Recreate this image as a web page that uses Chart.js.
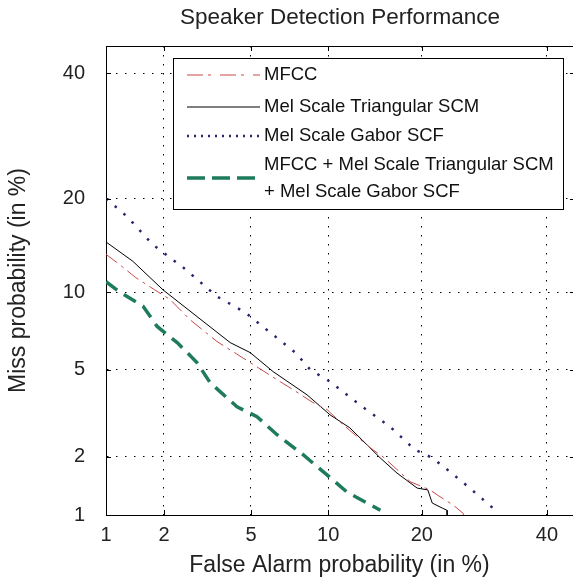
<!DOCTYPE html>
<html>
<head>
<meta charset="utf-8">
<script src="https://cdn.jsdelivr.net/npm/chart.js@4.4.1/dist/chart.umd.min.js"></script>
<style>
  html, body { margin: 0; padding: 0; background: #fff; overflow: hidden; }
  #wrap { width: 573px; height: 581px; }
</style>
</head>
<body>
<div id="wrap"><canvas id="detChart" width="573" height="581"></canvas></div>
<script>
// tick labels (percent) used on both axes
const tickValues = [1, 2, 5, 10, 20, 40];
const axisMin = 1;
const xAxisMax = 44.8; // plot box runs a little past the picture on the right
const yAxisMax = 45;

// MFCC
const mfccFA = [1.0, 1.22, 1.43, 1.8, 2.14, 2.67, 3.56, 4.96, 6.58, 7.4, 8.8, 9.9, 11.3, 13.9, 15.3, 16.9, 18.5, 21.1, 22.1, 24.4, 25.9, 25.9];
const mfccMiss = [13.5, 12.3, 11.3, 10.2, 9.43, 7.93, 6.52, 5.36, 4.45, 4.11, 3.6, 3.35, 2.85, 2.22, 2.0, 1.73, 1.5, 1.36, 1.28, 1.13, 1.02, 1.0];

// Mel Scale Triangular SCM
const triFA = [1.0, 1.39, 1.98, 2.88, 4.07, 4.96, 6.17, 8.36, 10.15, 11.9, 14.97, 16.9, 19.4, 20.8, 21.4, 22.8, 23.5, 23.5];
const triMiss = [14.8, 12.8, 10.2, 8.15, 6.46, 5.89, 4.91, 3.9, 3.17, 2.76, 1.98, 1.66, 1.39, 1.36, 1.16, 1.09, 1.06, 1.0];

// Mel Scale Gabor SCF
const gaborFA = [1.0, 1.3, 1.76, 2.48, 3.56, 4.73, 6.0, 7.54, 8.6, 10.15, 13.1, 16.1, 19.1, 21.4, 23.5, 26.9, 30.6];
const gaborMiss = [20.0, 17.7, 14.5, 12.2, 9.66, 8.44, 7.08, 5.89, 5.0, 4.45, 3.45, 2.79, 2.17, 1.98, 1.73, 1.39, 1.09];

// MFCC + Mel Scale Triangular SCM + Mel Scale Gabor SCF
const fusedFA = [1.0, 1.19, 1.57, 1.85, 2.32, 2.88, 3.31, 4.36, 5.3, 6.4, 8.08, 10.4, 11.6, 15.0];
const fusedMiss = [10.9, 10.0, 8.9, 7.47, 6.46, 5.36, 4.41, 3.45, 3.11, 2.56, 2.05, 1.53, 1.33, 1.06];

const FONT = "'Liberation Sans', Arial, sans-serif";

// inverse normal CDF (Acklam)
function probit(p) {
  const a = [-39.69683028665376, 220.9460984245205, -275.9285104469687, 138.3577518672690, -30.66479806614716, 2.506628277459239];
  const b = [-54.47609879822406, 161.5858368580409, -155.6989798598866, 66.80131188771972, -13.28068155288572];
  const c = [-0.007784894002430293, -0.3223964580411365, -2.400758277161838, -2.549732539343734, 4.374664141464968, 2.938163982698783];
  const d = [0.007784695709041462, 0.3224671290700398, 2.445134137142996, 3.754408661907416];
  const pl = 0.02425;
  if (p < pl) {
    const q = Math.sqrt(-2 * Math.log(p));
    return (((((c[0]*q+c[1])*q+c[2])*q+c[3])*q+c[4])*q+c[5]) / ((((d[0]*q+d[1])*q+d[2])*q+d[3])*q+1);
  }
  if (p > 1 - pl) {
    const q = Math.sqrt(-2 * Math.log(1 - p));
    return -(((((c[0]*q+c[1])*q+c[2])*q+c[3])*q+c[4])*q+c[5]) / ((((d[0]*q+d[1])*q+d[2])*q+d[3])*q+1);
  }
  const q = p - 0.5, r = q * q;
  return (((((a[0]*r+a[1])*r+a[2])*r+a[3])*r+a[4])*r+a[5])*q / (((((b[0]*r+b[1])*r+b[2])*r+b[3])*r+b[4])*r+1);
}

// normal CDF
function normCdf(z) {
  const t = 1 / (1 + 0.2316419 * Math.abs(z));
  const y = 0.3989423 * Math.exp(-z * z / 2) * t * (0.3193815 + t * (-0.3565638 + t * (1.781478 + t * (-1.821256 + t * 1.330274))));
  return z > 0 ? 1 - y : y;
}

// normal deviate scale, values in percent
class ProbitScale extends Chart.Scale {
  determineDataLimits() {
    this.min = this.options.min;
    this.max = this.options.max;
  }
  buildTicks() {
    return tickValues.map((v) => ({ value: v }));
  }
  getLabelForValue(value) {
    return String(value);
  }
  getPixelForValue(value) {
    const z0 = probit(this.min / 100);
    const z1 = probit(this.max / 100);
    return this.getPixelForDecimal((probit(value / 100) - z0) / (z1 - z0));
  }
  getPixelForTick(index) {
    return this.getPixelForValue(this.ticks[index].value);
  }
  getValueForPixel(pixel) {
    const z0 = probit(this.min / 100);
    const z1 = probit(this.max / 100);
    return normCdf(z0 + this.getDecimalForPixel(pixel) * (z1 - z0)) * 100;
  }
}
ProbitScale.id = "probit";
ProbitScale.defaults = {};
Chart.register(ProbitScale);

function points(xs, ys) {
  return xs.map((x, i) => ({ x: x, y: ys[i] }));
}

// title centred over the plot box
const titlePlugin = {
  id: "plotTitle",
  afterDraw(chart) {
    const { ctx } = chart;
    ctx.save();
    ctx.fillStyle = "#222";
    ctx.font = "22.5px " + FONT;
    ctx.textAlign = "center";
    ctx.textBaseline = "middle";
    ctx.fillText("Speaker Detection Performance", 340, 18);
    ctx.restore();
  },
};

// top frame line and inward ticks
const framePlugin = {
  id: "frame",
  afterDatasetsDraw(chart) {
    const { ctx, chartArea, scales } = chart;
    const len = 5;
    const rightEdge = chartArea.right + 2; // frame sits just outside the picture
    ctx.save();
    ctx.strokeStyle = "#000";
    ctx.lineWidth = 1;
    ctx.beginPath();
    ctx.moveTo(chartArea.left, chartArea.top + 0.5);
    ctx.lineTo(rightEdge, chartArea.top + 0.5);
    tickValues.forEach((v) => {
      const px = Math.round(scales.x.getPixelForValue(v)) + 0.5;
      ctx.moveTo(px, chartArea.bottom);
      ctx.lineTo(px, chartArea.bottom - len);
      ctx.moveTo(px, chartArea.top);
      ctx.lineTo(px, chartArea.top + len);
      const py = Math.round(scales.y.getPixelForValue(v)) + 0.5;
      ctx.moveTo(chartArea.left, py);
      ctx.lineTo(chartArea.left + len, py);
      ctx.moveTo(rightEdge, py);
      ctx.lineTo(rightEdge - len, py);
    });
    ctx.stroke();
    ctx.restore();
  },
};

// boxed legend inside the plot, MATLAB style
const legendBoxPlugin = {
  id: "legendBox",
  afterDraw(chart) {
    const { ctx } = chart;
    const box = { x: 173.5, y: 58.5, w: 390, h: 151 };
    const rows = [75, 107, 136, 178];
    ctx.save();
    ctx.fillStyle = "#fff";
    ctx.fillRect(box.x, box.y, box.w, box.h);
    ctx.strokeStyle = "#000";
    ctx.lineWidth = 1;
    ctx.strokeRect(box.x, box.y, box.w, box.h);
    ctx.font = "18.5px " + FONT;
    ctx.textBaseline = "middle";
    chart.data.datasets.forEach((ds, i) => {
      const y = rows[i];
      ctx.beginPath();
      ctx.strokeStyle = ds.borderColor;
      ctx.lineWidth = ds.borderWidth;
      ctx.setLineDash(ds.legendDash || ds.borderDash || []);
      ctx.moveTo(187, y);
      ctx.lineTo(260, y);
      ctx.stroke();
      ctx.setLineDash([]);
      ctx.fillStyle = "#111";
      const lines = Array.isArray(ds.label) ? ds.label : [ds.label];
      if (lines.length === 1) {
        ctx.fillText(lines[0], 264, y);
      } else {
        ctx.fillText(lines[0], 264, 165);
        ctx.fillText(lines[1], 264, 192);
      }
    });
    ctx.restore();
  },
};

new Chart(document.getElementById("detChart"), {
  type: "line",
  data: {
    datasets: [
      {
        label: "MFCC",
        data: points(mfccFA, mfccMiss),
        borderColor: "#c94848",
        borderWidth: 1,
        borderDash: [14, 5, 3, 5],
        legendDash: [16, 5, 3, 9],
      },
      {
        label: "Mel Scale Triangular SCM",
        data: points(triFA, triMiss),
        borderColor: "#000",
        borderWidth: 1,
      },
      {
        label: "Mel Scale Gabor SCF",
        data: points(gaborFA, gaborMiss),
        borderColor: "#26266a",
        borderWidth: 2.5,
        borderDash: [2.5, 9],
        legendDash: [2, 5],
      },
      {
        label: ["MFCC + Mel Scale Triangular SCM", "+ Mel Scale Gabor SCF"],
        data: points(fusedFA, fusedMiss),
        borderColor: "#1e7b5c",
        borderWidth: 3.5,
        borderDash: [14, 8],
        legendDash: [18, 7],
      },
    ],
  },
  options: {
    responsive: false,
    animation: false,
    layout: { padding: { top: 46, right: 0, bottom: 0, left: 0 } },
    elements: { point: { radius: 0 }, line: { tension: 0, fill: false } },
    plugins: { legend: { display: false }, title: { display: false }, tooltip: { enabled: false } },
    scales: {
      x: {
        type: "probit",
        min: axisMin,
        max: xAxisMax,
        grid: { color: "#000", lineWidth: 1, drawTicks: false },
        border: { display: true, color: "#000", width: 1, dash: [1.5, 7.5] },
        ticks: { autoSkip: false, maxRotation: 0, padding: 8, color: "#222", font: { family: FONT, size: 20 } },
        title: { display: true, text: "False Alarm probability (in %)", color: "#222", font: { family: FONT, size: 23 }, padding: { top: 4, bottom: 2 } },
        afterFit(scale) { scale.height = 66; },
      },
      y: {
        type: "probit",
        min: axisMin,
        max: yAxisMax,
        grid: { color: "#000", lineWidth: 1, drawTicks: false },
        border: { display: true, color: "#000", width: 1, dash: [1.5, 7.5] },
        ticks: { autoSkip: false, padding: 21, color: "#222", font: { family: FONT, size: 20 } },
        title: { display: true, text: "Miss probability (in %)", color: "#222", font: { family: FONT, size: 23 }, padding: { top: 5, bottom: 4 } },
        afterFit(scale) { scale.width = 106; },
      },
    },
  },
  plugins: [framePlugin, legendBoxPlugin, titlePlugin],
});
</script>
</body>
</html>
